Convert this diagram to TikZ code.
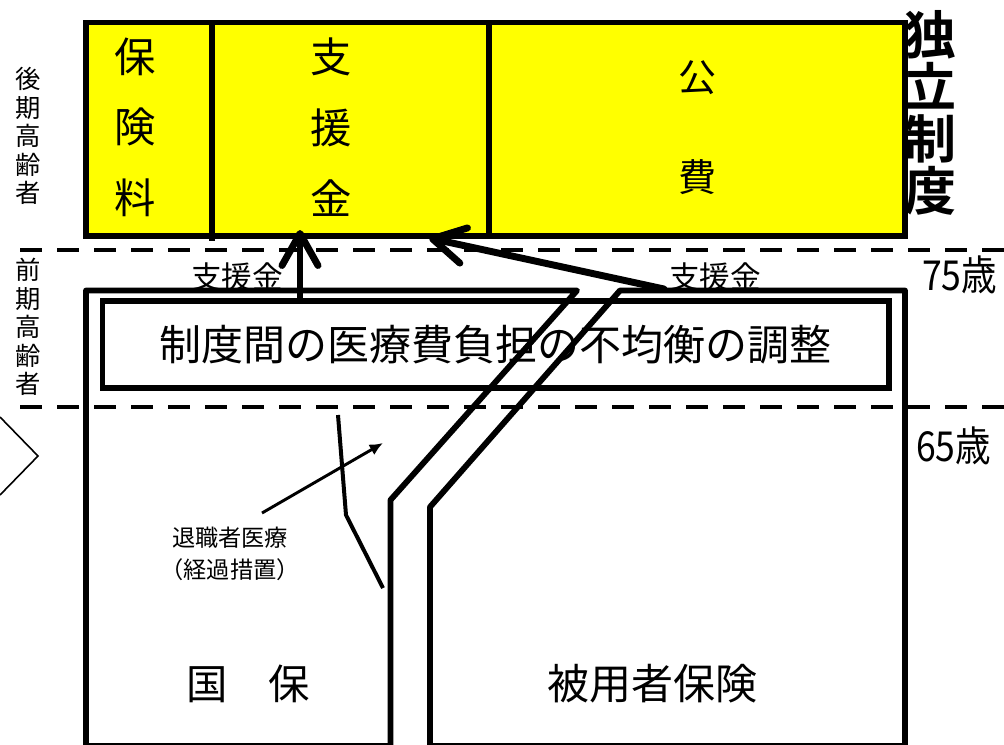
\documentclass[tikz,border=0pt]{standalone}
\usepackage{fontspec}
\setmainfont{Noto Sans CJK JP}[BoldFont={Noto Sans CJK JP Bold}]
\usetikzlibrary{arrows.meta}
\definecolor{cellyellow}{RGB}{255,255,0}
\begin{document}
\begin{tikzpicture}[x=0.75pt, y=-0.75pt,
            cellbox/.style={draw, fill=cellyellow, line width=4.2pt},
            outline/.style={draw, line width=4.4pt, line join=round},
            agebar/.style={line width=3pt, dash pattern=on 16.5pt off 11.25pt},
            bigarrow/.style={line width=5.2pt, line cap=round, -{Straight Barb[length=24pt, width=27pt, round]}},
            vlabel/.style={align=center, inner sep=0pt},
            agelabel/.style={anchor=west, inner sep=0pt, xscale=0.86, font=\fontsize{31}{31}\selectfont}
            ]
            \useasboundingbox (0,0) rectangle (1004,744);

            \draw[cellbox] (86,22.5) rectangle (905,236);
            \draw[line width=4.2pt] (212,22.5) -- (212,241);
            \draw[line width=4.2pt] (489,22.5) -- (489,236);
            \node[vlabel, font=\fontsize{31}{53}\selectfont] (hoken) at (135,127) {保\\険\\料};
            \node[vlabel, font=\fontsize{31}{53}\selectfont] (shien) at (331,127) {支\\援\\金};
            \node[vlabel, font=\fontsize{28.5}{75}\selectfont] (kohi) at (697,128) {公\\費};
            \node[vlabel, font=\bfseries\fontsize{39}{39}\selectfont] (dokuritsu) at (930,113) {独\\立\\制\\度};

            \node[vlabel, font=\fontsize{19}{21.3}\selectfont] (koki) at (28,136) {後\\期\\高\\齢\\者};
            \node[vlabel, font=\fontsize{19}{21.3}\selectfont] (zenki) at (28,327) {前\\期\\高\\齢\\者};

            \draw[agebar] (20,250) -- (1004,250);
            \draw[agebar] (20,407) -- (1004,407);
            \node[agelabel] (age75) at (922,275) {75歳};
            \node[agelabel] (age65) at (916,446) {65歳};

            \node[font=\fontsize{23}{23}\selectfont, inner sep=0pt] (shienL) at (237,277) {支援金};
            \node[font=\fontsize{23}{23}\selectfont, inner sep=0pt] (shienR) at (715,277) {支援金};

            \node[draw, line width=4.1pt, minimum width=589.9pt, minimum height=65.3pt,
                  font=\fontsize{31.5}{31.5}\selectfont] (adjust) at (495.8,344.5) {制度間の医療費負担の不均衡の調整};

            \draw[outline] (86,746) -- (86,290.5) -- (577,290.5) -- (390.5,500) -- (390.5,746) -- cycle;
            \draw[outline] (430,746) -- (430,507) -- (620,290.5) -- (905,290.5) -- (905,746) -- cycle;

            \coordinate (up1) at (300,299);
            \coordinate (in1) at (300,230);
            \coordinate (up2) at (664,289);
            \coordinate (in2) at (429,238);
            \draw[bigarrow] (up1) -- (in1);
            \draw[bigarrow] (up2) -- (in2);

            \node[vlabel, font=\fontsize{17.4}{24}\selectfont] (taishoku) at (230,554) {退職者医療\\（経過措置）};
            \coordinate (tail) at (262,513);
            \coordinate (head) at (383,443);
            \draw[line width=2.2pt, -{Latex[length=10pt, width=9pt]}] (tail) -- (head);
            \draw[line width=3pt] (338,415) -- (346,515) -- (383,588);

            \node[font=\fontsize{31}{31}\selectfont, inner sep=0pt] (kokuho) at (248,684) {国　保};
            \node[font=\fontsize{31.5}{31.5}\selectfont, inner sep=0pt] (hiyosha) at (652,684) {被用者保険};

            \draw[line width=1.2pt] (0,417) -- (38,456) -- (0,495);
            \end{tikzpicture}
\end{document}
